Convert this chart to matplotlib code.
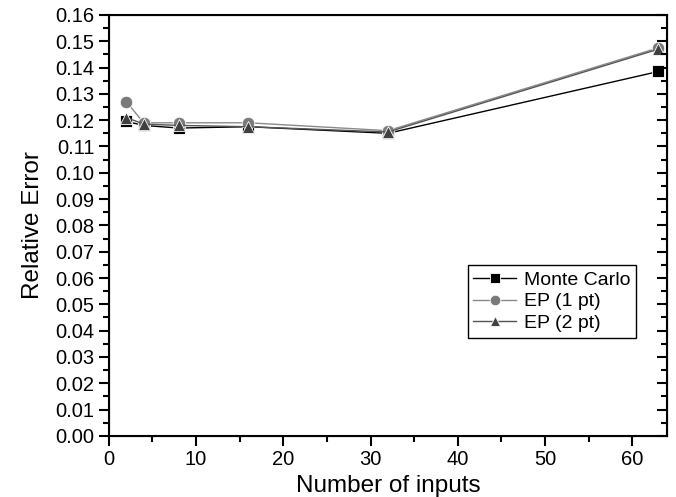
import matplotlib
matplotlib.use("Agg")
import matplotlib.pyplot as plt
import matplotlib.ticker as ticker

plt.rcParams['font.family'] = ['Liberation Sans', 'DejaVu Sans']

n_inputs = [2, 4, 8, 16, 32, 63]
monte_carlo = [0.1195, 0.118, 0.117, 0.1175, 0.115, 0.1385]
ep_1pt = [0.127, 0.119, 0.119, 0.119, 0.116, 0.1475]
ep_2pt = [0.121, 0.1185, 0.118, 0.1175, 0.1155, 0.147]

fig = plt.figure(figsize=(6.76, 4.97), dpi=100)
ax = fig.add_axes([0.161, 0.123, 0.826, 0.847])

ax.plot(n_inputs, monte_carlo, color='black', lw=1.0, marker='s', ms=8,
        mfc='black', mec='white', mew=0.6, label='Monte Carlo')
ax.plot(n_inputs, ep_1pt, color='#8a8a8a', lw=1.0, marker='o', ms=9,
        mfc='#7a7a7a', mec='white', mew=0.6, label='EP (1 pt)')
ax.plot(n_inputs, ep_2pt, color='#555555', lw=1.0, marker='^', ms=9,
        mfc='#404040', mec='white', mew=0.6, label='EP (2 pt)')

ax.set_xlim(0, 64)
ax.set_ylim(0, 0.16)
ax.xaxis.set_major_locator(ticker.MultipleLocator(10))
ax.xaxis.set_minor_locator(ticker.MultipleLocator(5))
ax.yaxis.set_major_locator(ticker.MultipleLocator(0.01))
ax.yaxis.set_minor_locator(ticker.MultipleLocator(0.005))
ax.yaxis.set_major_formatter(ticker.FormatStrFormatter('%.2f'))

ax.tick_params(which='both', direction='out', width=1.5, labelsize=14.5,
               right=False, top=False)
ax.tick_params(which='major', length=7)
ax.tick_params(which='minor', length=4)
for s in ax.spines.values():
    s.set_linewidth(1.5)

# inward ticks on the right spine
rax = ax.twinx()
rax.set_ylim(ax.get_ylim())
rax.yaxis.set_major_locator(ticker.MultipleLocator(0.01))
rax.yaxis.set_minor_locator(ticker.MultipleLocator(0.005))
rax.tick_params(which='both', direction='in', width=1.5, labelright=False)
rax.tick_params(which='major', length=7)
rax.tick_params(which='minor', length=4)

ax.set_xlabel('Number of inputs', fontsize=17.5, labelpad=4)
ax.set_ylabel('Relative Error', fontsize=17.5, labelpad=8)

ax.legend(loc='lower left', bbox_to_anchor=(0.625, 0.21), fontsize=14,
          frameon=True, fancybox=False, edgecolor='black', framealpha=1,
          handlelength=2.2, markerscale=0.85, borderpad=0.3,
          labelspacing=0.2, handletextpad=0.4)
ax.get_legend().get_frame().set_linewidth(1.0)

fig.savefig('out.png', dpi=100)
